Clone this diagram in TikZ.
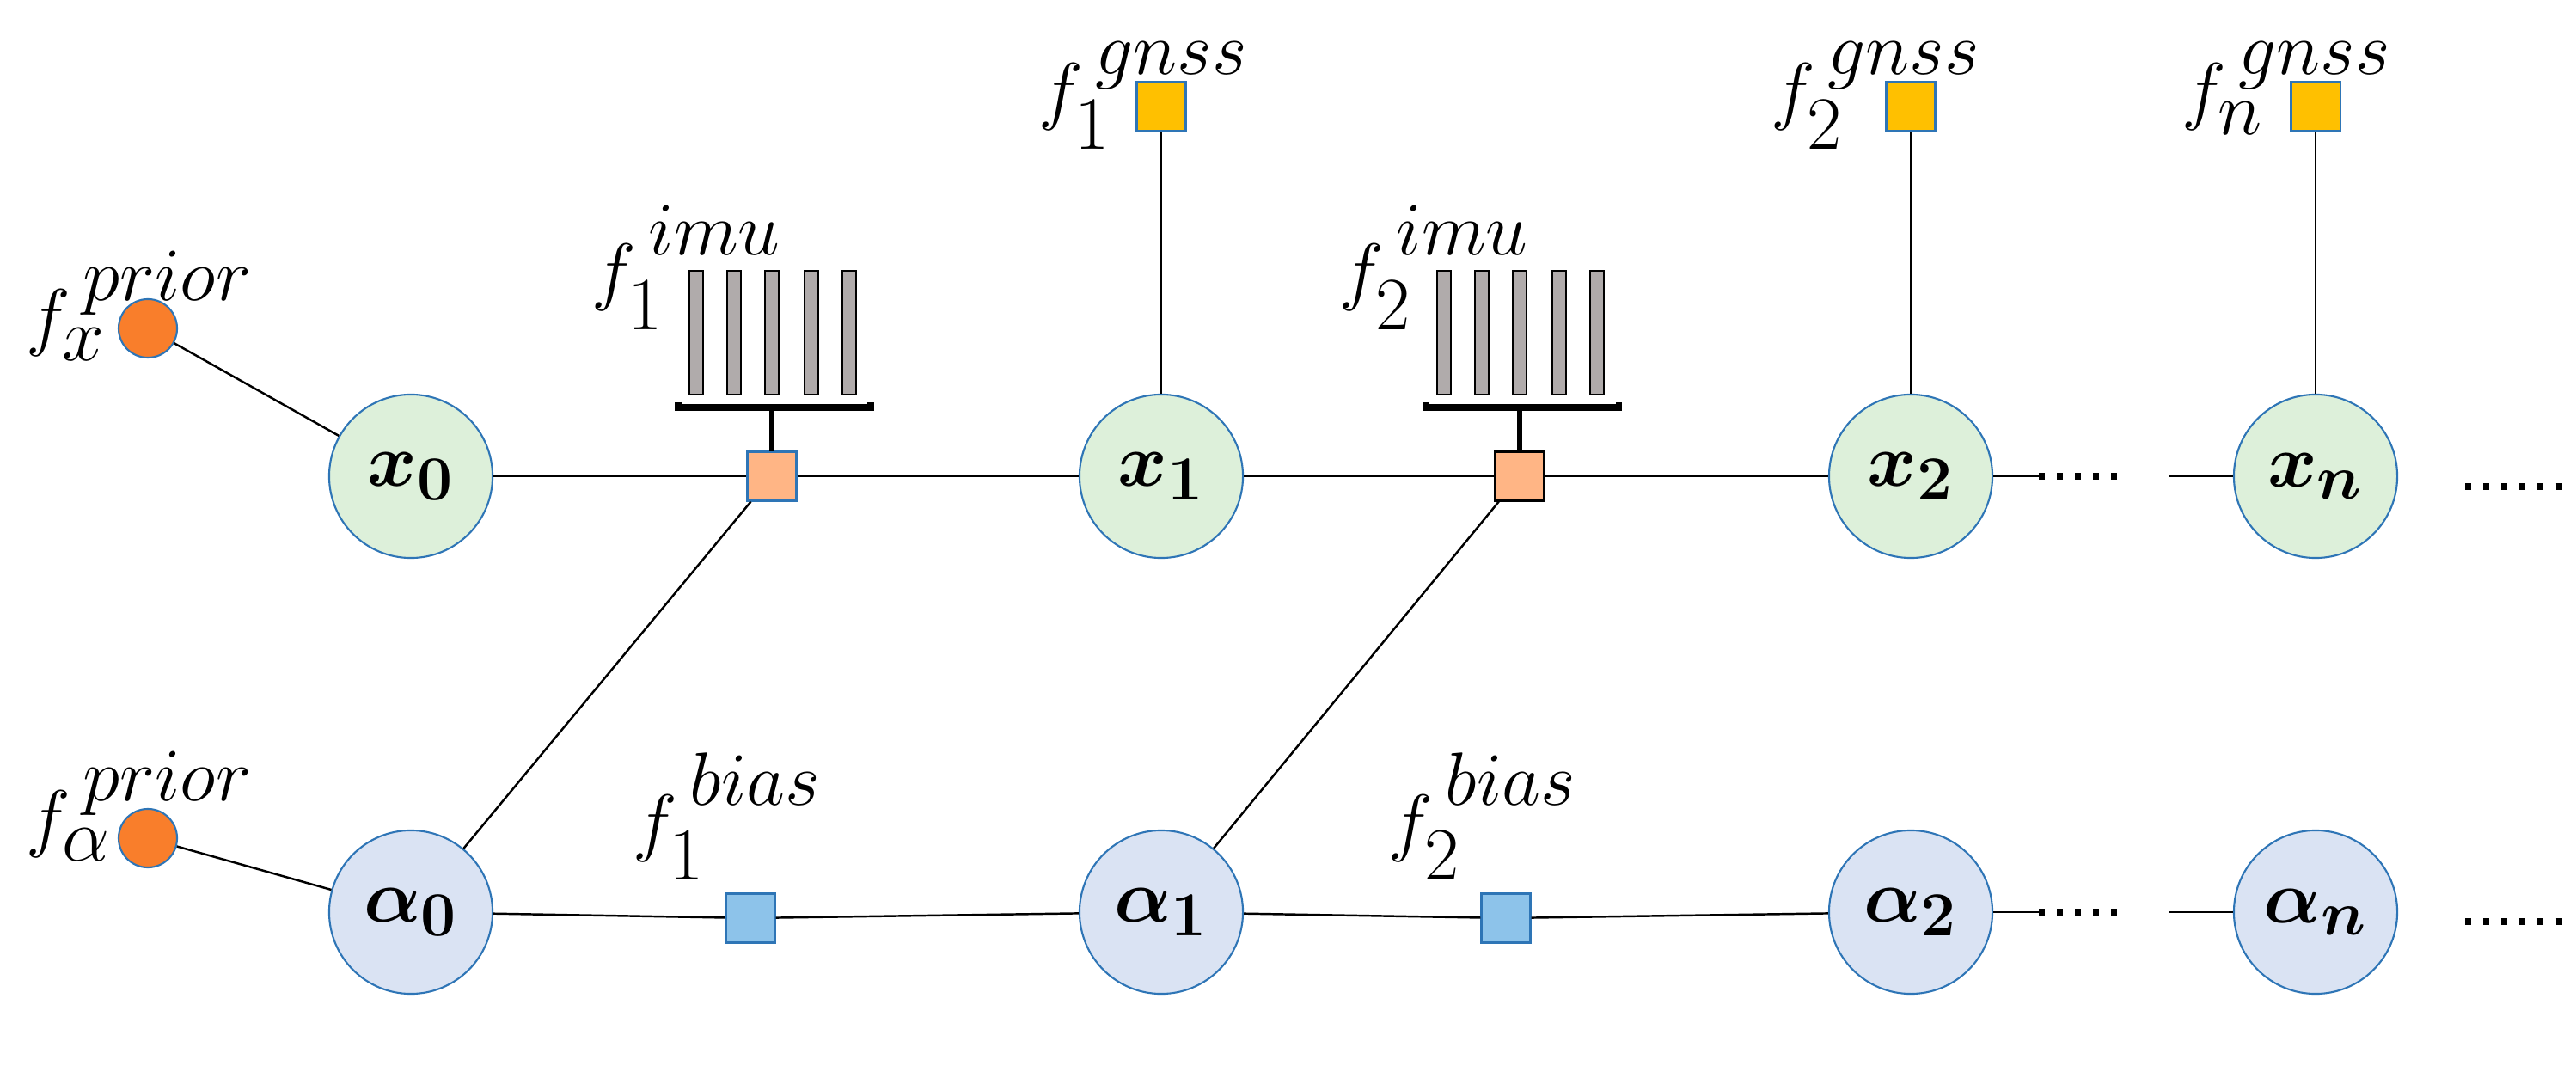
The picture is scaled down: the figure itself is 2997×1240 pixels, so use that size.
\documentclass[tikz,border=0pt]{standalone}
\usepackage{amsmath}
\usepackage{bm}
\usetikzlibrary{positioning}
\definecolor{xgreen}{HTML}{DDF0DA}
\definecolor{abluefill}{HTML}{DAE3F3}
\definecolor{edgeblue}{HTML}{2E75B6}
\definecolor{priororange}{HTML}{F97E2B}
\definecolor{imuorange}{HTML}{FFB585}
\definecolor{biasblue}{HTML}{8DC3EA}
\definecolor{gnssyellow}{HTML}{FFC000}
\definecolor{bargray}{HTML}{B0ABAB}
\tikzset{
state/.style={circle,draw=edgeblue,line width=0.6pt,minimum size=1.9cm,inner sep=0pt,font=\fontsize{30}{32}\selectfont},
xstate/.style={state,fill=xgreen},
astate/.style={state,fill=abluefill},
factor/.style={rectangle,draw=edgeblue,line width=0.6pt,minimum size=0.57cm,inner sep=0pt},
prior/.style={circle,draw=edgeblue,fill=priororange,line width=0.6pt,minimum size=0.68cm,inner sep=0pt},
flabel/.style={anchor=base west,inner sep=0pt,font=\fontsize{40}{44}\selectfont},
wire/.style={line width=0.7pt},
dots/.style={line width=2pt,dash pattern=on 2pt off 4pt}
}
\newcommand{\fsup}[2]{f_{#1}^{\,\raisebox{0.12em}{$\scriptstyle #2$}}}
\newcommand{\imubars}[1]{%
\begin{scope}[shift={(#1)}]
\foreach \bx in {-88,-44,0,46,90}
\draw[fill=bargray,line width=0.8pt] (\bx-8,-95) rectangle (\bx+8,-239);
\draw[line width=2pt] (-109,-86) -- (-109,-80) -- (115,-80) -- (115,-86);
\draw[line width=1.5pt] (0,-80) -- (0,-28.5);
\end{scope}}
\begin{document}
\begin{tikzpicture}[x=0.01cm,y=-0.01cm]
\useasboundingbox (0,0) rectangle (2997,1240);
%states
\node[xstate] (x0) at (478,554) {$\bm{x_0}$};
\node[xstate] (x1) at (1351,554) {$\bm{x_1}$};
\node[xstate] (x2) at (2223,554) {$\bm{x_2}$};
\node[xstate] (xn) at (2694,554) {$\bm{x_n}$};
\node[astate] (a0) at (478,1061) {$\bm{\alpha_0}$};
\node[astate] (a1) at (1351,1061) {$\bm{\alpha_1}$};
\node[astate] (a2) at (2223,1061) {$\bm{\alpha_2}$};
\node[astate] (an) at (2694,1061) {$\bm{\alpha_n}$};
%factors
\node[prior] (px) at (172,382) {};
\node[prior] (pa) at (172,975) {};
\node[factor,fill=imuorange] (imuA) at (898,554) {};
\node[factor,fill=imuorange,draw=black] (imuB) at (1768,554) {};
\node[factor,fill=biasblue] (biasA) at (873,1068) {};
\node[factor,fill=biasblue] (biasB) at (1752,1068) {};
\node[factor,fill=gnssyellow] (gA) at (1351,124) {};
\node[factor,fill=gnssyellow] (gB) at (2223,124) {};
\node[factor,fill=gnssyellow] (gN) at (2694,124) {};
\imubars{imuA}
\imubars{imuB}
%connecting them
\draw[wire] (px) -- (x0);
\draw[wire] (pa) -- (a0);
\draw[wire] (x0) -- (imuA) -- (x1) -- (imuB) -- (x2);
\draw[wire] (a0) -- (biasA) -- (a1) -- (biasB) -- (a2);
\draw[wire] (a0) -- (imuA);
\draw[wire] (a1) -- (imuB);
\draw[wire] (gA) -- (x1);
\draw[wire] (gB) -- (x2);
\draw[wire] (gN) -- (xn);
%dots
\coordinate (xs) at (2372,554);
\coordinate (xd) at (2476,554);
\coordinate (xm) at (2523,554);
\coordinate (as) at (2372,1061);
\coordinate (ad) at (2476,1061);
\coordinate (am) at (2523,1061);
\draw[wire] (x2) -- (xs);
\draw[dots] (xs) -- (xd);
\draw[wire] (xm) -- (xn);
\draw[wire] (a2) -- (as);
\draw[dots] (as) -- (ad);
\draw[wire] (am) -- (an);
\coordinate (xe1) at (2868,566);
\coordinate (xe2) at (2982,566);
\coordinate (ae1) at (2868,1072);
\coordinate (ae2) at (2982,1072);
\draw[dots] (xe1) -- (xe2);
\draw[dots] (ae1) -- (ae2);
%labels
\node[flabel] (lpx) at (30,398) {$\fsup{x}{prior}$};
\node[flabel] (lpa) at (30,980) {$\fsup{\alpha}{prior}$};
\node[flabel] (limuA) at (688,345) {$\fsup{1}{imu}$};
\node[flabel] (limuB) at (1558,345) {$\fsup{2}{imu}$};
\node[flabel] (lgA) at (1208,135) {$\fsup{1}{gnss}$};
\node[flabel] (lgB) at (2060,135) {$\fsup{2}{gnss}$};
\node[flabel] (lgN) at (2538,135) {$\fsup{n}{gnss}$};
\node[flabel] (lbA) at (736,985) {$\fsup{1}{bias}$};
\node[flabel] (lbB) at (1615,985) {$\fsup{2}{bias}$};
\end{tikzpicture}
\end{document}
